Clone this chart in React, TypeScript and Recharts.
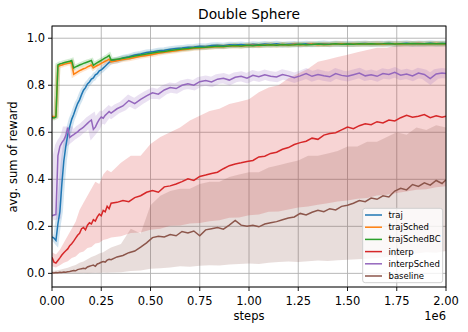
import React from 'react';
import { ComposedChart, Line, Area, XAxis, YAxis, CartesianGrid } from 'recharts';

// x positions in units of 1e6 steps
const steps = [
  0, 0.01, 0.02, 0.03, 0.04, 0.05, 0.06, 0.07, 0.08, 0.09, 0.1, 0.11, 0.12, 0.13, 0.14, 0.15, 0.16, 0.17, 0.18, 0.19, 0.2,
  0.21, 0.22, 0.23, 0.24, 0.25, 0.26, 0.27, 0.28, 0.29, 0.3,
  0.33, 0.36, 0.39, 0.42, 0.45, 0.48, 0.51, 0.54, 0.57, 0.6, 0.63, 0.66, 0.69, 0.72, 0.75, 0.78, 0.81, 0.84, 0.87, 0.9,
  0.93, 0.96, 0.99, 1.02, 1.05, 1.08, 1.11, 1.14, 1.17, 1.2, 1.23, 1.26, 1.29, 1.32, 1.35, 1.38, 1.41, 1.44, 1.47, 1.5,
  1.53, 1.56, 1.59, 1.62, 1.65, 1.68, 1.71, 1.74, 1.77, 1.8, 1.83, 1.86, 1.89, 1.92, 1.95, 1.98, 2.0,
];

const traj = [
  0.155, 0.15, 0.14, 0.21, 0.262, 0.38, 0.478, 0.54, 0.59, 0.624, 0.655, 0.676, 0.7, 0.722, 0.738, 0.76, 0.779, 0.79, 0.806, 0.814, 0.826,
  0.831, 0.844, 0.849, 0.861, 0.865, 0.873, 0.881, 0.889, 0.897, 0.902,
  0.906, 0.916, 0.921, 0.929, 0.933, 0.939, 0.942, 0.947, 0.949, 0.953, 0.956, 0.958, 0.962, 0.963, 0.966, 0.965, 0.969, 0.97, 0.968, 0.972,
  0.971, 0.973, 0.97, 0.974, 0.972, 0.975, 0.973, 0.976, 0.972, 0.974, 0.975, 0.973, 0.976, 0.974, 0.975, 0.977, 0.974, 0.976, 0.975, 0.977,
  0.975, 0.976, 0.978, 0.975, 0.977, 0.976, 0.978, 0.976, 0.977, 0.979, 0.976, 0.978, 0.977, 0.979, 0.977, 0.978, 0.978,
];

const trajSched = [
  0.668, 0.665, 0.67, 0.878, 0.884, 0.886, 0.889, 0.891, 0.893, 0.895, 0.897, 0.847, 0.852, 0.857, 0.862, 0.866, 0.87, 0.873, 0.878, 0.882, 0.886,
  0.874, 0.879, 0.884, 0.888, 0.893, 0.897, 0.902, 0.906, 0.911, 0.899,
  0.904, 0.909, 0.913, 0.918, 0.923, 0.927, 0.931, 0.936, 0.94, 0.944, 0.947, 0.951, 0.953, 0.957, 0.958, 0.961, 0.962, 0.965, 0.964, 0.967,
  0.968, 0.966, 0.969, 0.97, 0.968, 0.971, 0.972, 0.97, 0.973, 0.971, 0.974, 0.972, 0.973, 0.975, 0.972, 0.974, 0.973, 0.975, 0.976, 0.973,
  0.975, 0.974, 0.976, 0.975, 0.977, 0.974, 0.976, 0.977, 0.975, 0.977, 0.976, 0.978, 0.976, 0.977, 0.978, 0.976, 0.977,
];

const trajSchedBC = [
  0.663, 0.661, 0.665, 0.886, 0.891, 0.893, 0.896, 0.898, 0.9, 0.902, 0.905, 0.874, 0.878, 0.882, 0.886, 0.889, 0.893, 0.896, 0.899, 0.902, 0.905,
  0.885, 0.891, 0.896, 0.901, 0.906, 0.911, 0.916, 0.921, 0.927, 0.907,
  0.911, 0.915, 0.919, 0.924, 0.929, 0.933, 0.937, 0.941, 0.944, 0.948, 0.951, 0.954, 0.956, 0.959, 0.961, 0.962, 0.964, 0.966, 0.965, 0.967,
  0.969, 0.967, 0.97, 0.968, 0.971, 0.97, 0.972, 0.97, 0.973, 0.971, 0.972, 0.974, 0.972, 0.973, 0.975, 0.973, 0.974, 0.976, 0.974, 0.975,
  0.974, 0.976, 0.975, 0.977, 0.975, 0.976, 0.978, 0.975, 0.977, 0.976, 0.978, 0.976, 0.977, 0.978, 0.977, 0.978, 0.977,
];

const interp = [
  0.068, 0.048, 0.044, 0.055, 0.066, 0.078, 0.088, 0.096, 0.104, 0.118, 0.126, 0.137, 0.15, 0.162, 0.17, 0.19, 0.195, 0.185, 0.205, 0.215, 0.21,
  0.228, 0.222, 0.24, 0.252, 0.245, 0.268, 0.262, 0.285, 0.275, 0.298,
  0.302, 0.31, 0.305, 0.322, 0.33, 0.345, 0.352, 0.345, 0.368, 0.372, 0.38, 0.39, 0.402, 0.395, 0.412, 0.418, 0.425, 0.43, 0.445, 0.458,
  0.465, 0.47, 0.476, 0.48, 0.495, 0.498, 0.51, 0.515, 0.528, 0.535, 0.548, 0.556, 0.562, 0.575, 0.57, 0.588, 0.595, 0.598, 0.61, 0.622,
  0.615, 0.628, 0.636, 0.632, 0.645, 0.64, 0.652, 0.648, 0.662, 0.672, 0.664, 0.668, 0.675, 0.662, 0.67, 0.664, 0.668,
];

const interpSched = [
  0.245, 0.248, 0.25, 0.5, 0.54, 0.556, 0.568, 0.585, 0.62, 0.578, 0.585, 0.59, 0.596, 0.602, 0.61, 0.616, 0.622, 0.63, 0.638, 0.646, 0.652,
  0.612, 0.622, 0.64, 0.655, 0.665, 0.66, 0.672, 0.68, 0.688, 0.682,
  0.7, 0.712, 0.735, 0.722, 0.74, 0.755, 0.768, 0.762, 0.78, 0.79, 0.786, 0.8, 0.806, 0.8, 0.815, 0.82, 0.814, 0.826, 0.83, 0.822,
  0.834, 0.838, 0.83, 0.842, 0.836, 0.845, 0.838, 0.835, 0.846, 0.84, 0.832, 0.84, 0.85, 0.838, 0.846, 0.84, 0.836, 0.85, 0.842, 0.838,
  0.845, 0.852, 0.84, 0.845, 0.838, 0.85, 0.846, 0.855, 0.843, 0.848, 0.84, 0.852, 0.846, 0.828, 0.848, 0.852, 0.85,
];

const baseline = [
  0.003, 0.002, 0.004, 0.003, 0.005, 0.004, 0.006, 0.005, 0.007, 0.008, 0.01, 0.012, 0.011, 0.016, 0.018, 0.02, 0.022, 0.02, 0.027, 0.03, 0.033,
  0.035, 0.03, 0.04, 0.043, 0.047, 0.05, 0.048, 0.056, 0.06, 0.058,
  0.07, 0.076, 0.088, 0.095, 0.112, 0.13, 0.152, 0.158, 0.155, 0.165, 0.16, 0.178, 0.172, 0.18, 0.16, 0.185, 0.19, 0.195, 0.188, 0.205,
  0.225, 0.205, 0.2, 0.205, 0.198, 0.21, 0.215, 0.22, 0.228, 0.235, 0.24, 0.255, 0.248, 0.26, 0.268, 0.262, 0.275, 0.27, 0.285, 0.29,
  0.298, 0.31, 0.305, 0.32, 0.315, 0.33, 0.325, 0.35, 0.362, 0.355, 0.378, 0.37, 0.385, 0.375, 0.395, 0.382, 0.398,
];

// shaded spread (min / max over runs) for interp and baseline
const bandSteps = [
  0, 0.02, 0.04, 0.06, 0.08, 0.1, 0.12, 0.14, 0.16, 0.18, 0.2, 0.22, 0.24, 0.26, 0.28, 0.3,
  0.35, 0.4, 0.45, 0.5, 0.55, 0.6, 0.65, 0.7, 0.75, 0.8, 0.85, 0.9, 0.95, 1.0, 1.05, 1.1, 1.15, 1.2, 1.25, 1.3, 1.35,
  1.4, 1.45, 1.5, 1.55, 1.6, 1.65, 1.7, 1.75, 1.8, 1.85, 1.9, 1.95, 2.0,
];
const interpHi = [
  0.09, 0.08, 0.1, 0.13, 0.16, 0.19, 0.22, 0.27, 0.3, 0.33, 0.36, 0.39, 0.38, 0.42, 0.44, 0.43,
  0.47, 0.5, 0.5, 0.55, 0.58, 0.6, 0.62, 0.65, 0.67, 0.69, 0.7, 0.72, 0.73, 0.74, 0.77, 0.79, 0.8, 0.83, 0.85, 0.87, 0.9,
  0.91, 0.92, 0.93, 0.94, 0.95, 0.96, 0.96, 0.97, 0.98, 0.97, 0.98, 0.97, 0.98,
];
const interpLo = [
  0.03, 0.025, 0.035, 0.045, 0.052, 0.065, 0.072, 0.088, 0.093, 0.108, 0.112, 0.127, 0.13, 0.142, 0.146, 0.152,
  0.158, 0.172, 0.174, 0.186, 0.19, 0.202, 0.204, 0.212, 0.214, 0.222, 0.226, 0.236, 0.238, 0.247, 0.25, 0.262, 0.263, 0.272, 0.28, 0.284, 0.292,
  0.298, 0.306, 0.31, 0.317, 0.32, 0.331, 0.334, 0.342, 0.348, 0.356, 0.358, 0.366, 0.37,
];
const baselineHi = [
  0.01, 0.012, 0.015, 0.02, 0.024, 0.03, 0.036, 0.045, 0.05, 0.06, 0.07, 0.076, 0.085, 0.09, 0.1, 0.11,
  0.125, 0.19, 0.17, 0.29, 0.33, 0.35, 0.36, 0.36, 0.38, 0.39, 0.39, 0.41, 0.42, 0.43, 0.43, 0.45, 0.46, 0.47, 0.48, 0.5, 0.5,
  0.51, 0.52, 0.54, 0.54, 0.56, 0.56, 0.58, 0.6, 0.59, 0.62, 0.61, 0.63, 0.62,
];
const baselineLo = [
  0, 0, 0, 0, 0, 0.001, 0, 0.001, 0.002, 0.001, 0.002, 0.003, 0.002, 0.004, 0.003, 0.004,
  0.005, 0.01, 0.012, 0.02, 0.022, 0.025, 0.03, 0.028, 0.032, 0.035, 0.033, 0.038, 0.04, 0.042, 0.04, 0.045, 0.048, 0.05, 0.048, 0.052, 0.055,
  0.053, 0.056, 0.058, 0.06, 0.062, 0.065, 0.07, 0.072, 0.08, 0.085, 0.09, 0.088, 0.095,
];

const seriesNames = ['traj', 'trajSched', 'trajSchedBC', 'interp', 'interpSched', 'baseline'];
const seriesColors = ['#1f77b4', '#ff7f0e', '#2ca02c', '#d62728', '#9467bd', '#8c564b'];
const xTicks = [0, 0.25, 0.5, 0.75, 1.0, 1.25, 1.5, 1.75, 2.0];
const yTicks = [0, 0.2, 0.4, 0.6, 0.8, 1.0];
const titleText = 'Double Sphere';
const xLabel = 'steps';
const xOffsetLabel = '1e6';
const yLabel = 'avg. sum of reward';

const seriesValues = [traj, trajSched, trajSchedBC, interp, interpSched, baseline];
const rows = steps.map((x, i) => {
  const r: Record<string, number> = { x };
  seriesNames.forEach((n, k) => {
    r[n] = seriesValues[k][i];
  });
  return r;
});
const bandRows = bandSteps.map((x, i) => ({
  x,
  interpBand: [interpLo[i], interpHi[i]],
  baselineBand: [baselineLo[i], baselineHi[i]],
}));

const FONT = 'DejaVu Sans, sans-serif';
const W = 468;
const H = 332;
const PLOT = { left: 52, top: 26, right: 446, bottom: 287 };

// translucent wide strokes standing in for narrow std bands
const narrowBandWidth: Record<string, number> = { traj: 6, trajSched: 5, trajSchedBC: 5, interpSched: 10 };

export default function App() {
  return (
    <div style={{ position: 'absolute', left: 0, top: 0, width: W, height: H, background: '#fff' }}>
      <ComposedChart
        width={W}
        height={H}
        data={rows}
        margin={{ top: PLOT.top, right: W - PLOT.right, bottom: 0, left: 0 }}
      >
        <CartesianGrid stroke="#b0b0b0" strokeWidth={0.9} />
        <XAxis
          dataKey="x"
          type="number"
          domain={[0, 2]}
          ticks={xTicks}
          interval={0}
          allowDataOverflow
          height={H - PLOT.bottom}
          axisLine={false}
          tickLine={{ stroke: '#000', strokeWidth: 0.9 }}
          tickSize={4}
          tickMargin={6}
          tick={{ fill: '#000', fontSize: 11.5, fontFamily: FONT }}
          tickFormatter={(v: number) => v.toFixed(2)}
        />
        <YAxis
          type="number"
          domain={[-0.058, 1.052]}
          ticks={yTicks}
          interval={0}
          allowDataOverflow
          width={PLOT.left}
          axisLine={false}
          tickLine={{ stroke: '#000', strokeWidth: 0.9 }}
          tickSize={4}
          tickMargin={3}
          tick={{ fill: '#000', fontSize: 11.5, fontFamily: FONT }}
          tickFormatter={(v: number) => v.toFixed(1)}
        />
        <Area
          data={bandRows}
          dataKey="interpBand"
          type="linear"
          stroke="none"
          fill={seriesColors[3]}
          fillOpacity={0.2}
          isAnimationActive={false}
          dot={false}
          activeDot={false}
          legendType="none"
        />
        <Area
          data={bandRows}
          dataKey="baselineBand"
          type="linear"
          stroke="none"
          fill={seriesColors[5]}
          fillOpacity={0.2}
          isAnimationActive={false}
          dot={false}
          activeDot={false}
          legendType="none"
        />
        {seriesNames
          .filter((n) => narrowBandWidth[n])
          .map((n) => (
            <Line
              key={n + '-band'}
              dataKey={n}
              type="linear"
              stroke={seriesColors[seriesNames.indexOf(n)]}
              strokeOpacity={0.2}
              strokeWidth={narrowBandWidth[n]}
              dot={false}
              activeDot={false}
              isAnimationActive={false}
              legendType="none"
            />
          ))}
        {seriesNames.map((n, k) => (
          <Line
            key={n}
            dataKey={n}
            type="linear"
            stroke={seriesColors[k]}
            strokeWidth={1.5}
            dot={false}
            activeDot={false}
            isAnimationActive={false}
          />
        ))}
      </ComposedChart>
      <svg
        width={W}
        height={H}
        style={{ position: 'absolute', left: 0, top: 0, pointerEvents: 'none' }}
      >
        <rect
          x={PLOT.left}
          y={PLOT.top}
          width={PLOT.right - PLOT.left}
          height={PLOT.bottom - PLOT.top}
          fill="none"
          stroke="#000"
          strokeWidth={0.9}
        />
        <text x={249} y={19} textAnchor="middle" fontFamily={FONT} fontSize={13.8} fill="#000">
          {titleText}
        </text>
        <text x={249} y={320} textAnchor="middle" fontFamily={FONT} fontSize={11.5} fill="#000">
          {xLabel}
        </text>
        <text x={PLOT.right} y={320} textAnchor="end" fontFamily={FONT} fontSize={11.5} fill="#000">
          {xOffsetLabel}
        </text>
        <text
          x={16.5}
          y={157}
          textAnchor="middle"
          transform="rotate(-90 16.5 157)"
          fontFamily={FONT}
          fontSize={11.5}
          fill="#000"
        >
          {yLabel}
        </text>
        <g>
          <rect x={362.7} y={208.3} width={80} height={74.4} rx={2.5} fill="#fff" fillOpacity={0.8} stroke="#cccccc" strokeWidth={0.9} />
          {seriesNames.map((n, k) => {
            const cy = 215 + k * 12.2;
            return (
              <g key={n}>
                <line x1={365} x2={382} y1={cy} y2={cy} stroke={seriesColors[k]} strokeWidth={1.5} />
                <text x={388.5} y={cy + 3} fontFamily={FONT} fontSize={8.5} fill="#000">
                  {n}
                </text>
              </g>
            );
          })}
        </g>
      </svg>
    </div>
  );
}
